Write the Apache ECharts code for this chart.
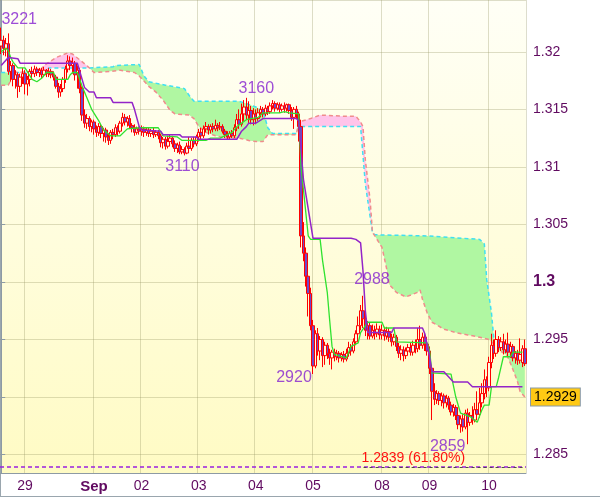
<!DOCTYPE html>
<html><head><meta charset="utf-8">
<script src="https://cdn.jsdelivr.net/npm/echarts@6/dist/echarts.min.js"></script>
<style>html,body{margin:0;padding:0;background:#fff}#c{width:600px;height:497px}</style>
</head><body><div id="c"></div>
<script>
// ---------- DATA ----------
const dayLabels = ['28','29','Sep','02','03','04','05','08','09','10'];
const dayBarCounts = [10,29,20,24,24,24,29,20,25,16];

// hourly candles: [open, close, low, high]
const candles = [
[1.3205,1.3210,1.3198,1.3221],[1.3210,1.3203,1.3197,1.3214],[1.3203,1.3207,1.3196,1.3212],[1.3207,1.3183,1.3180,1.3216],
[1.3183,1.3188,1.3174,1.3192],[1.3188,1.3176,1.3170,1.3190],[1.3176,1.3180,1.3168,1.3184],[1.3180,1.3170,1.3160,1.3182],
[1.3170,1.3178,1.3165,1.3181],[1.3178,1.3181,1.3172,1.3186],
[1.3181,1.3172,1.3163,1.3184],[1.3172,1.3176,1.3162,1.3179],[1.3176,1.3183,1.3170,1.3185],[1.3183,1.3181,1.3177,1.3187],
[1.3181,1.3185,1.3178,1.3188],[1.3185,1.3182,1.3179,1.3187],[1.3182,1.3184,1.3178,1.3186],[1.3184,1.3180,1.3177,1.3186],
[1.3180,1.3184,1.3178,1.3187],[1.3184,1.3181,1.3178,1.3185],[1.3181,1.3183,1.3178,1.3186],[1.3183,1.3180,1.3177,1.3185],
[1.3180,1.3178,1.3175,1.3183],[1.3178,1.3170,1.3168,1.3180],[1.3170,1.3165,1.3160,1.3173],[1.3165,1.3168,1.3161,1.3172],
[1.3168,1.3176,1.3165,1.3178],[1.3176,1.3185,1.3173,1.3188],[1.3185,1.3192,1.3182,1.3197],[1.3192,1.3188,1.3184,1.3196],
[1.3188,1.3190,1.3181,1.3195],[1.3190,1.3180,1.3175,1.3192],[1.3180,1.3184,1.3168,1.3188],[1.3184,1.3168,1.3164,1.3186],
[1.3168,1.3145,1.3140,1.3170],[1.3145,1.3138,1.3134,1.3150],[1.3138,1.3142,1.3133,1.3146],[1.3142,1.3135,1.3131,1.3144],
[1.3135,1.3139,1.3130,1.3141],
[1.3139,1.3133,1.3128,1.3141],[1.3133,1.3130,1.3126,1.3136],[1.3130,1.3135,1.3127,1.3138],[1.3135,1.3129,1.3125,1.3137],
[1.3129,1.3132,1.3122,1.3134],[1.3132,1.3126,1.3121,1.3134],[1.3126,1.3123,1.3119,1.3129],[1.3123,1.3130,1.3120,1.3132],
[1.3130,1.3128,1.3124,1.3133],[1.3128,1.3134,1.3126,1.3137],[1.3134,1.3131,1.3127,1.3136],[1.3131,1.3138,1.3129,1.3140],
[1.3138,1.3143,1.3135,1.3147],[1.3143,1.3139,1.3136,1.3146],[1.3139,1.3142,1.3135,1.3144],[1.3142,1.3136,1.3133,1.3145],
[1.3136,1.3134,1.3130,1.3138],[1.3134,1.3130,1.3127,1.3137],[1.3130,1.3133,1.3128,1.3135],[1.3133,1.3131,1.3128,1.3135],
[1.3131,1.3133,1.3127,1.3136],[1.3133,1.3130,1.3126,1.3135],[1.3130,1.3132,1.3127,1.3134],[1.3132,1.3129,1.3126,1.3134],
[1.3129,1.3131,1.3126,1.3133],[1.3131,1.3128,1.3125,1.3134],[1.3128,1.3130,1.3126,1.3132],[1.3130,1.3127,1.3124,1.3132],
[1.3127,1.3121,1.3117,1.3129],[1.3121,1.3124,1.3116,1.3126],[1.3124,1.3118,1.3115,1.3126],[1.3118,1.3122,1.3116,1.3127],
[1.3122,1.3125,1.3118,1.3128],[1.3125,1.3120,1.3117,1.3127],[1.3120,1.3116,1.3113,1.3123],[1.3116,1.3119,1.3112,1.3121],
[1.3119,1.3113,1.3111,1.3122],[1.3113,1.3115,1.3111,1.3118],[1.3115,1.3112,1.3110,1.3117],[1.3112,1.3118,1.3111,1.3121],
[1.3118,1.3116,1.3113,1.3126],[1.3116,1.3123,1.3114,1.3125],[1.3123,1.3120,1.3117,1.3126],[1.3120,1.3126,1.3118,1.3128],
[1.3126,1.3130,1.3122,1.3133],[1.3130,1.3127,1.3123,1.3134],[1.3127,1.3133,1.3125,1.3136],[1.3133,1.3135,1.3130,1.3139],
[1.3135,1.3132,1.3128,1.3137],[1.3132,1.3135,1.3129,1.3137],[1.3135,1.3133,1.3130,1.3138],[1.3133,1.3136,1.3131,1.3141],
[1.3136,1.3134,1.3131,1.3138],[1.3134,1.3135,1.3132,1.3139],[1.3135,1.3131,1.3129,1.3137],[1.3131,1.3128,1.3125,1.3133],
[1.3128,1.3126,1.3124,1.3131],[1.3126,1.3129,1.3124,1.3131],[1.3129,1.3127,1.3125,1.3132],[1.3127,1.3134,1.3125,1.3137],
[1.3134,1.3141,1.3131,1.3146],[1.3141,1.3137,1.3133,1.3150],[1.3137,1.3146,1.3135,1.3155],[1.3146,1.3152,1.3140,1.3158],
[1.3152,1.3145,1.3141,1.3160],[1.3145,1.3149,1.3138,1.3157],[1.3149,1.3141,1.3137,1.3153],[1.3141,1.3146,1.3136,1.3151],
[1.3146,1.3142,1.3137,1.3150],[1.3142,1.3147,1.3140,1.3151],[1.3147,1.3150,1.3143,1.3153],[1.3150,1.3146,1.3143,1.3152],
[1.3146,1.3151,1.3144,1.3154],[1.3151,1.3148,1.3145,1.3153],[1.3148,1.3153,1.3146,1.3156],[1.3153,1.3155,1.3150,1.3158],
[1.3155,1.3151,1.3148,1.3157],[1.3151,1.3154,1.3149,1.3156],[1.3154,1.3150,1.3147,1.3156],[1.3150,1.3153,1.3148,1.3155],
[1.3153,1.3151,1.3147,1.3156],[1.3151,1.3154,1.3148,1.3155],[1.3154,1.3149,1.3146,1.3155],[1.3149,1.3143,1.3140,1.3152],
[1.3143,1.3150,1.3133,1.3152],[1.3150,1.3146,1.3142,1.3153],[1.3146,1.3135,1.3122,1.3148],[1.3135,1.3040,1.3030,1.3141],
[1.3040,1.3025,1.3018,1.3052],[1.3025,1.3005,1.2996,1.3030],[1.3005,1.2990,1.2970,1.3013],[1.2990,1.2962,1.2958,1.2995],
[1.2962,1.2927,1.2920,1.2967],[1.2927,1.2955,1.2925,1.2958],[1.2955,1.2940,1.2936,1.2960],[1.2940,1.2950,1.2932,1.2953],
[1.2950,1.2936,1.2926,1.2952],[1.2936,1.2945,1.2928,1.2948],[1.2945,1.2938,1.2933,1.2947],[1.2938,1.2934,1.2928,1.2942],
[1.2934,1.2939,1.2924,1.2941],[1.2939,1.2935,1.2931,1.2942],[1.2935,1.2938,1.2932,1.2941],[1.2938,1.2934,1.2930,1.2940],
[1.2934,1.2937,1.2931,1.2939],[1.2937,1.2933,1.2930,1.2940],[1.2933,1.2938,1.2931,1.2942],[1.2938,1.2943,1.2935,1.2948],
[1.2943,1.2940,1.2936,1.2946],[1.2940,1.2948,1.2938,1.2951],[1.2948,1.2955,1.2945,1.2958],[1.2955,1.2962,1.2952,1.2970],
[1.2962,1.2975,1.2958,1.2980],[1.2975,1.2968,1.2960,1.2988],[1.2968,1.2958,1.2953,1.2972],[1.2958,1.2962,1.2950,1.2966],
[1.2962,1.2953,1.2950,1.2965],[1.2953,1.2958,1.2951,1.2963],[1.2958,1.2955,1.2950,1.2962],[1.2955,1.2959,1.2952,1.2964],
[1.2959,1.2954,1.2950,1.2962],
[1.2954,1.2958,1.2950,1.2963],[1.2958,1.2953,1.2949,1.2961],[1.2953,1.2957,1.2950,1.2961],[1.2957,1.2952,1.2948,1.2960],
[1.2952,1.2948,1.2944,1.2955],[1.2948,1.2952,1.2945,1.2955],[1.2952,1.2944,1.2940,1.2954],[1.2944,1.2938,1.2934,1.2947],
[1.2938,1.2941,1.2932,1.2945],[1.2941,1.2936,1.2931,1.2944],[1.2936,1.2940,1.2933,1.2943],[1.2940,1.2943,1.2937,1.2946],
[1.2943,1.2939,1.2936,1.2947],[1.2939,1.2945,1.2936,1.2949],[1.2945,1.2942,1.2938,1.2950],[1.2942,1.2950,1.2939,1.2960],
[1.2950,1.2945,1.2941,1.2962],[1.2945,1.2952,1.2942,1.2956],[1.2952,1.2946,1.2940,1.2955],[1.2946,1.2940,1.2936,1.2949],
[1.2940,1.2925,1.2920,1.2944],[1.2925,1.2905,1.2880,1.2928],[1.2905,1.2898,1.2893,1.2912],[1.2898,1.2903,1.2894,1.2906],
[1.2903,1.2897,1.2893,1.2905],[1.2897,1.2901,1.2892,1.2904],[1.2901,1.2895,1.2890,1.2903],[1.2895,1.2899,1.2891,1.2902],
[1.2899,1.2893,1.2889,1.2901],[1.2893,1.2887,1.2884,1.2896],[1.2887,1.2891,1.2883,1.2894],[1.2891,1.2884,1.2880,1.2893],
[1.2884,1.2876,1.2872,1.2887],[1.2876,1.2881,1.2869,1.2884],[1.2881,1.2874,1.2870,1.2885],[1.2874,1.2886,1.2872,1.2889],
[1.2886,1.2878,1.2859,1.2890],[1.2878,1.2884,1.2875,1.2887],[1.2884,1.2880,1.2876,1.2892],[1.2880,1.2889,1.2878,1.2895],
[1.2889,1.2885,1.2881,1.2905],[1.2885,1.2895,1.2882,1.2908],[1.2895,1.2903,1.2891,1.2912],[1.2903,1.2915,1.2898,1.2924],
[1.2915,1.2908,1.2900,1.2918],
[1.2908,1.2930,1.2905,1.2935],[1.2930,1.2945,1.2925,1.2955],[1.2945,1.2938,1.2933,1.2950],[1.2938,1.2950,1.2935,1.2958],
[1.2950,1.2943,1.2939,1.2953],[1.2943,1.2948,1.2940,1.2952],[1.2948,1.2941,1.2937,1.2955],[1.2941,1.2946,1.2938,1.2950],
[1.2946,1.2939,1.2935,1.2956],[1.2939,1.2944,1.2934,1.2948],[1.2944,1.2934,1.2931,1.2946],[1.2934,1.2938,1.2929,1.2940],
[1.2938,1.2932,1.2928,1.2941],[1.2932,1.2937,1.2929,1.2951],[1.2930,1.2942,1.2926,1.2945],[1.2942,1.2929,1.2927,1.2950]
];

// Ichimoku lines: [bar, price]
const tenkan = [[0,1.3200],[2,1.3203],[3,1.3201],[4,1.3195],[5,1.3191],[7,1.3186],[10,1.3186],[13,1.3176],[15,1.3174],[17,1.3177],[19,1.3182],[22,1.3182],[23,1.3176],[28,1.3176],[29,1.3180],[30,1.3182],[32,1.3182],[34,1.3170],[36,1.3160],[38,1.3150],[41,1.3140],[43,1.3132],[46,1.3127],[50,1.3127],[53,1.3133],[58,1.3134],[66,1.3134],[68,1.3127],[74,1.3126],[76,1.3123],[86,1.3123],[88,1.3125],[92,1.3125],[95,1.3128],[97,1.3130],[99,1.3135],[101,1.3138],[103,1.3141],[105,1.3142],[108,1.3143],[110,1.3147],[117,1.3147],[119,1.3148],[121,1.3147],[125,1.3146],[126,1.3100],[127,1.3080],[129,1.3040],[130,1.3037],[134,1.3037],[135,1.3019],[137,1.2991],[138,1.2967],[139,1.2944],[140,1.2937],[145,1.2934],[147,1.2944],[150,1.2947],[151,1.2956],[154,1.2965],[160,1.2965],[161,1.2960],[165,1.2960],[166,1.2948],[179,1.2947],[180,1.2940],[181,1.2921],[189,1.2920],[191,1.2900],[193,1.2886],[197,1.2883],[200,1.2878],[202,1.2889],[203,1.2893],[205,1.2893],[206,1.2909],[208,1.2909],[209,1.2917],[211,1.2935],[214,1.2935],[215,1.2939],[219,1.2939]];
const kijun = [[0,1.3188],[3,1.3195],[7,1.3194],[8,1.3190],[32,1.3190],[35,1.3169],[37,1.3165],[39,1.3165],[40,1.3160],[46,1.3160],[47,1.3156],[55,1.3156],[56,1.3150],[58,1.3135],[59,1.3132],[67,1.3131],[68,1.3128],[75,1.3128],[76,1.3126],[82,1.3126],[83,1.3124],[99,1.3124],[101,1.3131],[103,1.3135],[104,1.3138],[107,1.3138],[110,1.3142],[124,1.3142],[125,1.3140],[127,1.3089],[131,1.3038],[147,1.3038],[149,1.3037],[151,1.3034],[152,1.3010],[153,1.2975],[154,1.2956],[164,1.2956],[165,1.2960],[177,1.2960],[178,1.2955],[180,1.2935],[181,1.2922],[186,1.2922],[190,1.2913],[196,1.2913],[198,1.2909],[219,1.2909]];
const senkouA = [[0,1.3182],[19,1.3182],[20,1.3186],[37,1.3186],[47,1.3187],[48,1.3188],[58,1.3189],[60,1.3179],[62,1.3174],[69,1.3171],[77,1.3168],[79,1.3162],[81,1.3157],[100,1.3157],[103,1.3155],[107,1.3152],[110,1.3149],[112,1.3134],[114,1.3129],[124,1.3129],[125,1.3135],[151,1.3135],[153,1.3085],[154,1.3071],[156,1.3043],[157,1.3041],[179,1.3040],[201,1.3037],[203,1.3033],[204,1.3002],[206,1.2973],[207,1.2950],[209,1.2943],[213,1.2938],[220,1.2937]];
const senkouB = [[0,1.3171],[3,1.3171],[4,1.3175],[5,1.3182],[16,1.3183],[18,1.3188],[23,1.3195],[28,1.3199],[30,1.3198],[33,1.3193],[36,1.3188],[38,1.3184],[39,1.3182],[46,1.3183],[50,1.3184],[56,1.3182],[58,1.3179],[62,1.3170],[65,1.3165],[68,1.3158],[71,1.3149],[73,1.3146],[79,1.3145],[81,1.3142],[83,1.3135],[86,1.3130],[90,1.3127],[95,1.3125],[100,1.3125],[104,1.3123],[107,1.3122],[110,1.3122],[112,1.3128],[124,1.3128],[125,1.3139],[130,1.3142],[134,1.3145],[144,1.3144],[149,1.3144],[151,1.3139],[152,1.3135],[153,1.3106],[155,1.3071],[156,1.3043],[157,1.3040],[160,1.3030],[162,1.3011],[163,1.2998],[166,1.2991],[170,1.2987],[175,1.2991],[176,1.2993],[177,1.2985],[179,1.2973],[181,1.2965],[186,1.2959],[191,1.2956],[196,1.2954],[201,1.2952],[205,1.2950],[207,1.2946],[209,1.2941],[212,1.2937],[213,1.2934],[215,1.2924],[217,1.2913],[218,1.2905],[220,1.2900]];

// swing highs / lows marked on the chart
const extremeBars = [0,103,77,131,152,196];
const extremePrices = [1.3221,1.3160,1.3110,1.2920,1.2988,1.2859];
// Fibonacci level
const fibLevel = 1.2839;
const fibRatio = '61.80%';
const fibStartBar = 151;
const lastPrice = 1.2929;

// ---------- STYLE ----------
const extremeLabelOffsets = [[18,-8],[10,-9],[-2,11],[-19,4],[9,-16],[-20,2]];
const FONT = 'Liberation Sans, Arial, sans-serif';
const AXIS_TXT = '#600a60';
const GRID_LINE = 'rgba(150,150,100,0.32)';

// ---------- BUILD ----------
const categories = [];
const dayStart = new Set();
let pos = 0;
dayLabels.forEach((d, k) => {
  dayStart.add(pos);
  for (let h = 0; h < dayBarCounts[k]; h++) categories.push(d + '|' + h);
  pos += dayBarCounts[k];
});
const N = categories.length;
const showDay = (i) => i > 0 && dayStart.has(i);

function lineAt(pts, x) {
  if (x <= pts[0][0]) return pts[0][1];
  for (let k = 0; k < pts.length - 1; k++) {
    const [x0, y0] = pts[k], [x1, y1] = pts[k + 1];
    if (x >= x0 && x <= x1) return x1 === x0 ? y1 : y0 + (y1 - y0) * (x - x0) / (x1 - x0);
  }
  return pts[pts.length - 1][1];
}
// polygons between the two spans, coloured by which span is on top
function cloudRuns() {
  const xs = new Set();
  senkouA.forEach(p => xs.add(p[0])); senkouB.forEach(p => xs.add(p[0]));
  const X = [...xs].sort((a, b) => a - b);
  const runs = [];
  let cur = null;
  const start = (x, a, b, up) => ({up, top: [[x, a]], bot: [[x, b]]});
  for (let k = 1; k < X.length; k++) {
    const px = X[k - 1], x = X[k];
    const pa = lineAt(senkouA, px), pb = lineAt(senkouB, px);
    const a = lineAt(senkouA, x), b = lineAt(senkouB, x);
    const d0 = pa - pb, d1 = a - b;
    if (d0 * d1 < 0) {
      if (!cur || cur.up !== (d0 > 0)) { if (cur) runs.push(cur); cur = start(px, pa, pb, d0 > 0); }
      const t = d0 / (d0 - d1);
      const xc = px + (x - px) * t, yc = pa + (a - pa) * t;
      cur.top.push([xc, yc]); cur.bot.push([xc, yc]);
      runs.push(cur);
      cur = start(xc, yc, yc, d1 > 0);
      cur.top.push([x, a]); cur.bot.push([x, b]);
    } else {
      const s = (d0 + d1) >= 0;
      if (!cur || cur.up !== s) { if (cur) runs.push(cur); cur = start(px, pa, pb, s); }
      cur.top.push([x, a]); cur.bot.push([x, b]);
    }
  }
  if (cur) runs.push(cur);
  return runs;
}
const runs = cloudRuns();

const chart = echarts.init(document.getElementById('c'), null, {renderer: 'canvas'});
chart.setOption({
  animation: false,
  backgroundColor: '#ffffff',
  textStyle: {fontFamily: FONT},
  grid: {
    left: 0, right: 74, top: 0, bottom: 24, show: true, borderWidth: 0,
    backgroundColor: new echarts.graphic.LinearGradient(0, 0, 0, 1, [
      {offset: 0, color: '#fffff6'}, {offset: 1, color: '#fffbc4'}])
  },
  xAxis: [{
    type: 'category', data: categories, boundaryGap: true,
    axisLine: {lineStyle: {color: '#8d9aa4', width: 1}},
    axisTick: {interval: showDay, alignWithLabel: true, length: 4, lineStyle: {color: '#8d9aa4'}},
    axisLabel: {
      interval: showDay, margin: 6, color: AXIS_TXT, fontSize: 14, fontFamily: FONT,
      formatter: (v) => { const d = v.split('|')[0]; return isNaN(+d) ? '{b|' + d + '}' : d; },
      rich: {b: {fontWeight: 'bold', fontSize: 15, color: AXIS_TXT, fontFamily: FONT}}
    },
    splitLine: {show: true, interval: showDay, lineStyle: {color: GRID_LINE, width: 1}}
  }, {
    type: 'value', min: -0.5, max: N - 0.5, show: false
  }],
  yAxis: {
    type: 'value', position: 'right', min: 1.2834, max: 1.3245, splitNumber: 8, scale: true,
    axisLine: {show: true, lineStyle: {color: '#8d9aa4'}},
    axisTick: {show: true, length: 4, lineStyle: {color: '#8d9aa4'}},
    axisLabel: {
      margin: 7, color: AXIS_TXT, fontSize: 14, fontFamily: FONT, showMinLabel: false, showMaxLabel: false,
      formatter: (v) => { const s = String(+(+v).toFixed(4)); return Math.abs(v - 1.3) < 1e-9 ? '{b|' + s + '}' : s; },
      rich: {b: {fontWeight: 'bold', fontSize: 16, color: AXIS_TXT, fontFamily: FONT}}
    },
    splitLine: {show: true, lineStyle: {color: GRID_LINE, width: 1}}
  },
  series: [
    {
      type: 'custom', name: 'kumo', xAxisIndex: 1, yAxisIndex: 0, silent: true, z: 1,
      data: [[senkouA[0][0], senkouA[0][1]]],
      renderItem: (params, api) => ({
        type: 'group',
        children: runs.map(r => ({
          type: 'polygon',
          shape: {points: r.top.concat(r.bot.slice().reverse()).map(p => api.coord(p))},
          style: {fill: r.up ? '#b0f7a2' : '#ffc4ea', stroke: null}
        }))
      })
    },
    {type: 'line', name: 'Senkou A', xAxisIndex: 1, data: senkouA, showSymbol: false, silent: true, z: 2,
      lineStyle: {color: '#3fe0f2', width: 1.5, type: [4, 3]}},
    {type: 'line', name: 'Senkou B', xAxisIndex: 1, data: senkouB, showSymbol: false, silent: true, z: 2,
      lineStyle: {color: '#f08c8c', width: 1.5, type: [4, 3]}},
    {
      type: 'candlestick', name: 'price', xAxisIndex: 0, data: candles, barWidth: 3, z: 3,
      itemStyle: {color: '#fffbe0', color0: '#7048c8', borderColor: '#ff0000', borderColor0: '#ff0000', borderWidth: 1},
      markLine: {
        symbol: 'none', silent: true,
        data: [
          {yAxis: lastPrice, lineStyle: {color: 'rgba(0,0,0,0)', width: 0},
            label: {
              show: true, position: 'end', distance: 5, formatter: () => lastPrice.toFixed(4),
              color: '#000', fontSize: 14, fontFamily: FONT,
              backgroundColor: '#ffc914', borderColor: '#8a9aa6', borderWidth: 1, padding: [2, 3, 1, 3]
            }}
        ]
      }
    },
    {type: 'line', name: 'Tenkan', xAxisIndex: 1, data: tenkan, showSymbol: false, silent: true, z: 4,
      lineStyle: {color: '#2fe22f', width: 1.3},
      markLine: {
        symbol: 'none', silent: true,
        data: [
          [{coord: [-0.5, fibLevel], lineStyle: {color: '#9a22e0', width: 1.5, type: [4, 3]}, label: {show: false}},
           {coord: [N - 0.5, fibLevel]}],
          [{coord: [fibStartBar, fibLevel], lineStyle: {color: '#4a4a4a', width: 1, type: [3, 3], dashOffset: 3},
            label: {show: true, position: 'insideStartTop', distance: [1, 2],
              formatter: () => fibLevel.toFixed(4) + ' (' + fibRatio + ')',
              color: '#ff1010', fontSize: 14, fontFamily: FONT}},
           {coord: [N - 1, fibLevel]}]
        ]
      }},
    {type: 'line', name: 'Kijun', xAxisIndex: 1, data: kijun, showSymbol: false, silent: true, z: 4,
      lineStyle: {color: '#9324c8', width: 1.5}},
    {
      type: 'scatter', name: 'swings', xAxisIndex: 1, silent: true, z: 5,
      symbolSize: 1, itemStyle: {color: 'rgba(0,0,0,0)'},
      data: extremeBars.map((b, k) => ({value: [b, extremePrices[k]], label: {offset: extremeLabelOffsets[k]}})),
      label: {
        show: true, position: 'inside', color: '#8420d0', fontSize: 16, fontFamily: FONT,
        formatter: (p) => String(Math.round(p.value[1] * 10000) % 10000).padStart(4, '0')
      }
    }
  ],
  graphic: [
    {type: 'line', shape: {x1: 0.5, y1: 0, x2: 0.5, y2: 497}, style: {stroke: '#9aa6ae', lineWidth: 1}, silent: true},
    {type: 'line', shape: {x1: 0, y1: 496.5, x2: 600, y2: 496.5}, style: {stroke: '#9aa6ae', lineWidth: 1}, silent: true}
  ]
});
</script></body></html>
